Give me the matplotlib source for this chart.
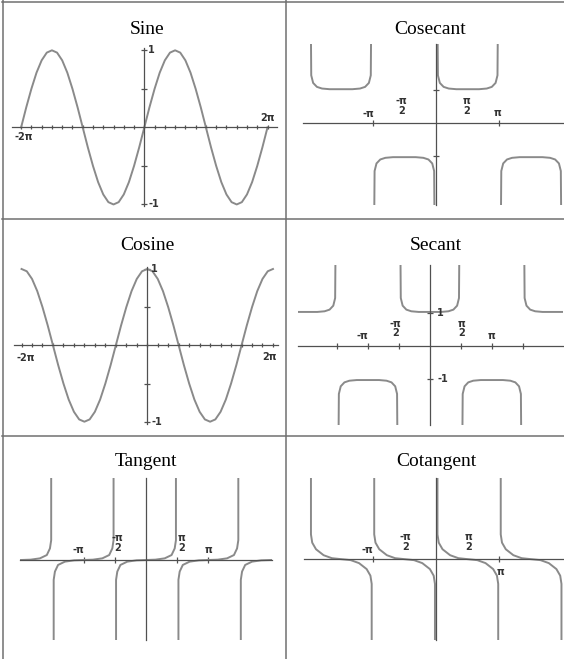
"""Six trig function graphs laid out as a 3x2 table, redrawn from a reference picture."""

import matplotlib.pyplot as plt
import numpy as np
from matplotlib.lines import Line2D

W, H = 564, 659

TITLES = ["Sine", "Cosecant", "Cosine", "Secant", "Tangent", "Cotangent"]

# x values are in multiples of pi, read at pi/12 steps
WAVE_X = np.arange(-2, 2.0001, 1 / 12)
SINE_Y = [0.0, 0.26, 0.5, 0.71, 0.87, 0.97, 1.0, 0.97, 0.87, 0.71, 0.5, 0.26,
          0.0, -0.26, -0.5, -0.71, -0.87, -0.97, -1.0, -0.97, -0.87, -0.71, -0.5, -0.26,
          0.0, 0.26, 0.5, 0.71, 0.87, 0.97, 1.0, 0.97, 0.87, 0.71, 0.5, 0.26,
          0.0, -0.26, -0.5, -0.71, -0.87, -0.97, -1.0, -0.97, -0.87, -0.71, -0.5, -0.26, 0.0]
COSINE_Y = [1.0, 0.97, 0.87, 0.71, 0.5, 0.26, 0.0, -0.26, -0.5, -0.71, -0.87, -0.97,
            -1.0, -0.97, -0.87, -0.71, -0.5, -0.26, 0.0, 0.26, 0.5, 0.71, 0.87, 0.97,
            1.0, 0.97, 0.87, 0.71, 0.5, 0.26, 0.0, -0.26, -0.5, -0.71, -0.87, -0.97,
            -1.0, -0.97, -0.87, -0.71, -0.5, -0.26, 0.0, 0.26, 0.5, 0.71, 0.87, 0.97, 1.0]

# one branch shape between two asymptotes (dx from the left asymptote, in pi units)
U_DX = [0.025, 0.03, 0.06, 0.12, 0.2, 0.32, 0.5, 0.68, 0.8, 0.88, 0.94, 0.97, 0.975]
U_Y = [2.7, 1.45, 1.22, 1.1, 1.05, 1.03, 1.03, 1.03, 1.05, 1.1, 1.22, 1.45, 2.7]
TAN_DX = [0.02, 0.02, 0.04, 0.09, 0.2, 0.35, 0.5, 0.65, 0.8, 0.91, 0.96, 0.98, 0.98]
TAN_Y = [-2.7, -0.6, -0.35, -0.15, -0.05, -0.01, 0.0, 0.01, 0.05, 0.15, 0.35, 0.6, 2.7]
COT_DX = [0.02, 0.02, 0.04, 0.1, 0.22, 0.35, 0.5, 0.65, 0.78, 0.9, 0.96, 0.98, 0.98]
COT_Y = [2.7, 0.75, 0.5, 0.3, 0.12, 0.03, 0.0, -0.03, -0.12, -0.3, -0.5, -0.75, -2.7]

CSC_STARTS = [-2, -1, 0, 1]
CSC_SIGNS = [1, -1, 1, -1]
SEC_STARTS = [-2.5, -1.5, -0.5, 0.5, 1.5]
SEC_SIGNS = [1, -1, 1, -1, 1]
TAN_STARTS = [-2.5, -1.5, -0.5, 0.5, 1.5]
COT_STARTS = [-2, -1, 0, 1]

WAVE_XTICKS = np.arange(-2, 2.0001, 1 / 6)
WAVE_YTICKS = [-1, -0.5, 0.5, 1]
SEC_XTICKS = [-1.5, -1, -0.5, 0.5, 1, 1.5]
SEC_YTICKS = [-1, 1]
CSC_XTICKS = [-1, 1]
CSC_YTICKS = [-1, 1]
TAN_XTICKS = [-1, -0.5, 0.5, 1]
COT_XTICKS = [-1, 1]

CURVE = "#8a8a8a"
AXIS = "#505050"
GRID = "#707070"
LABEL = "#333333"


def add_panel(fig, box, xlim, ylim, xticks, yticks, xlen=5, ylen=5):
    x0, y0, x1, y1 = box
    ax = fig.add_axes([x0 / W, 1 - y1 / H, (x1 - x0) / W, (y1 - y0) / H])
    ax.set_xlim(*xlim)
    ax.set_ylim(*ylim)
    ax.patch.set_visible(False)
    for side in ("top", "right"):
        ax.spines[side].set_visible(False)
    for side in ("left", "bottom"):
        ax.spines[side].set_position(("data", 0))
        ax.spines[side].set_color(AXIS)
        ax.spines[side].set_linewidth(0.9)
    ax.set_xticks(xticks)
    ax.set_yticks(yticks)
    ax.tick_params(axis="x", direction="inout", length=xlen, width=0.9, color=AXIS, labelbottom=False)
    ax.tick_params(axis="y", direction="inout", length=ylen, width=0.9, color=AXIS, labelleft=False)
    return ax


def tick_label(ax, text, x, y, dx, dy):
    ax.annotate(text, xy=(x, y), xytext=(dx, dy), textcoords="offset pixels",
                ha="center", va="center", multialignment="center", linespacing=0.95,
                fontsize=7, fontweight="bold", color=LABEL, family="DejaVu Sans",
                annotation_clip=False)


def branches(ax, starts, dxs, ys, signs=None):
    for i, start in enumerate(starts):
        sign = 1 if signs is None else signs[i]
        ax.plot(start + np.array(dxs), sign * np.array(ys), color=CURVE, lw=1.4,
                solid_joinstyle="round")


fig = plt.figure(figsize=(W / 100, H / 100), dpi=100)

# table rules
for y in (1.5, 219, 436):
    fig.add_artist(Line2D([2 / W, 1], [1 - y / H] * 2, color=GRID, lw=1.1))
for x in (3, 286):
    fig.add_artist(Line2D([x / W] * 2, [0, 1], color=GRID, lw=1.1))

title_pos = [(147, 33.5), (430, 33.5), (147.5, 250), (436, 250), (146, 466), (436, 466)]
for title, (tx, ty) in zip(TITLES, title_pos):
    fig.text(tx / W, 1 - ty / H, title, ha="center", va="baseline",
             fontsize=14, family="Liberation Serif", color="black")

frac_m = "-π\n2"
frac_p = "π\n2"

# Sine
ax = add_panel(fig, (12, 48, 277, 206), (-2.148, 2.154), (-1.02, 1.03), WAVE_XTICKS, WAVE_YTICKS, 2.5, 4)
ax.plot(WAVE_X, SINE_Y, color=CURVE, lw=1.4)
tick_label(ax, "-2π", -2, 0, 3, -10)
tick_label(ax, "2π", 2, 0, 0, 9.5)
tick_label(ax, "1", 0, 1, 7, 0)
tick_label(ax, "-1", 0, -1, 10, 0)

# Cosecant
ax = add_panel(fig, (303, 44, 564, 205), (-2.10, 2.02), (-2.48, 2.40), CSC_XTICKS, CSC_YTICKS)
branches(ax, CSC_STARTS, U_DX, U_Y, CSC_SIGNS)
tick_label(ax, "-π", -1, 0, -4.5, 9.5)
tick_label(ax, frac_m, -0.5, 0, -2.5, 17)
tick_label(ax, frac_p, 0.5, 0, -1, 17)
tick_label(ax, "π", 1, 0, -2, 10)

# Cosine
ax = add_panel(fig, (14, 267, 278, 424), (-2.12, 2.08), (-1.03, 1.026), WAVE_XTICKS, WAVE_YTICKS, 2.5, 4)
ax.plot(WAVE_X, COSINE_Y, color=CURVE, lw=1.4)
tick_label(ax, "-2π", -2, 0, 4, -12.5)
tick_label(ax, "2π", 2, 0, -3, -11.5)
tick_label(ax, "1", 0, 1, 7, 0)
tick_label(ax, "-1", 0, -1, 10, 0)

# Secant
ax = add_panel(fig, (298, 265, 563, 425), (-2.13, 2.15), (-2.39, 2.45), SEC_XTICKS, SEC_YTICKS)
branches(ax, SEC_STARTS, U_DX, U_Y, SEC_SIGNS)
tick_label(ax, "-π", -1, 0, -6, 9.5)
tick_label(ax, frac_m, -0.5, 0, -3.5, 17.5)
tick_label(ax, frac_p, 0.5, 0, 1, 17.5)
tick_label(ax, "π", 1, 0, -0.5, 9.5)
tick_label(ax, "1", 0, 1, 10, 0)
tick_label(ax, "-1", 0, -1, 13, 0)

# Tangent
ax = add_panel(fig, (20, 478, 272, 640), (-2.02, 2.02), (-2.42, 2.48), TAN_XTICKS, [])
branches(ax, TAN_STARTS, TAN_DX, TAN_Y)
tick_label(ax, "-π", -1, 0, -5, 10)
tick_label(ax, frac_m, -0.5, 0, 3, 17)
tick_label(ax, frac_p, 0.5, 0, 4.5, 17)
tick_label(ax, "π", 1, 0, 0, 10)

# Cotangent
ax = add_panel(fig, (304, 478, 564, 640), (-2.09, 2.02), (-2.45, 2.46), COT_XTICKS, [])
branches(ax, COT_STARTS, COT_DX, COT_Y)
tick_label(ax, "-π", -1, 0, -5.5, 9.5)
tick_label(ax, frac_m, -0.5, 0, 1, 17)
tick_label(ax, frac_p, 0.5, 0, 1, 17)
tick_label(ax, "π", 1, 0, 1, -12.5)

fig.savefig("out.png", dpi=100)
